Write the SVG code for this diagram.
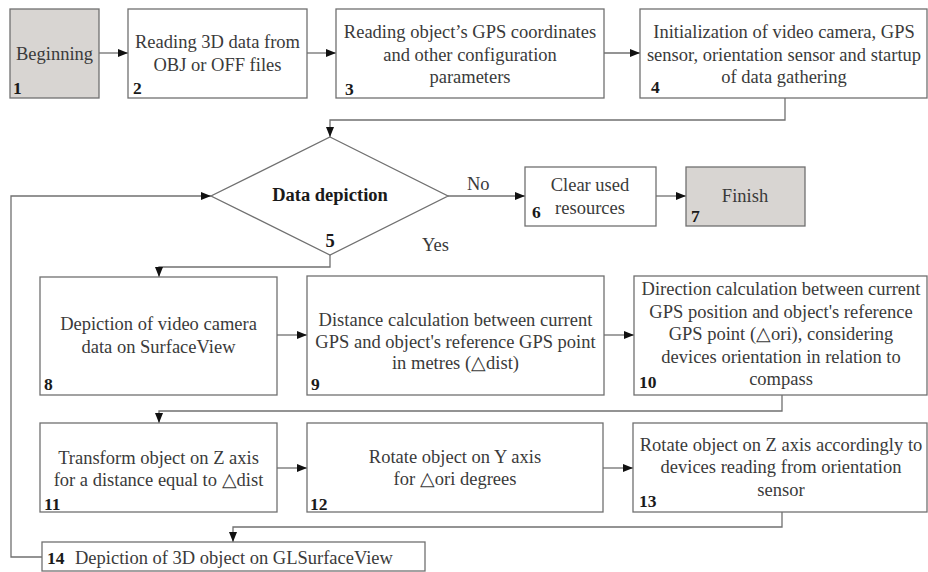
<svg xmlns="http://www.w3.org/2000/svg" width="928" height="572" viewBox="0 0 928 572">
<defs>
<style>
.box{fill:#ffffff;stroke:#707070;stroke-width:1.3}
.gray{fill:#d8d5d2}
.t{font-family:"Liberation Serif","Times New Roman",serif;font-size:18.5px;fill:#3a3a3a;text-anchor:middle}
.n{font-family:"Liberation Serif","Times New Roman",serif;font-size:17.5px;font-weight:bold;fill:#1a1a1a}
.b{font-family:"Liberation Serif","Times New Roman",serif;font-size:18.5px;font-weight:bold;fill:#1a1a1a;text-anchor:middle}
.c{fill:none;stroke:#707070;stroke-width:1.3}
.s{fill:none;stroke:#707070;stroke-width:1.3;marker-end:url(#ah)}
</style>
<marker id="ah" markerUnits="userSpaceOnUse" markerWidth="11" markerHeight="9" refX="10" refY="4" orient="auto">
<path d="M0,0 L10,4 L0,8 z" fill="#111"/>
</marker>
</defs>
<rect width="928" height="572" fill="#ffffff"/>
<g id="connectors">
<path class="s" d="M99,53 H128"/>
<path class="s" d="M307,53 H336"/>
<path class="s" d="M604,53 H640"/>
<path class="s" d="M785,98 V120 H330 V137"/>
<path class="s" d="M448,196 H525"/>
<path class="s" d="M656,196 H686"/>
<path class="s" d="M330,255 V267 H159 V277"/>
<path class="s" d="M277,335 H307"/>
<path class="s" d="M604,335 H634"/>
<path class="s" d="M782,395 V411 H159 V423"/>
<path class="s" d="M277,468 H307"/>
<path class="s" d="M603,468 H633"/>
<path class="s" d="M782,512 V527 H233 V542"/>
<path class="s" d="M42,557 H11 V196 H211"/>
<text class="t" x="467" y="190" style="text-anchor:start">No</text>
<text class="t" x="422" y="251" style="text-anchor:start">Yes</text>
</g>
<g id="node1">
<rect class="box gray" x="10" y="9" width="89" height="89"/>
<text class="t" x="54.5" y="60">Beginning</text>
<text class="n" x="13" y="94">1</text>
</g>
<g id="node2">
<rect class="box" x="128" y="9" width="179" height="89"/>
<text class="t" x="217.5" y="48">Reading 3D data from</text>
<text class="t" x="217.5" y="71">OBJ or OFF files</text>
<text class="n" x="133" y="94">2</text>
</g>
<g id="node3">
<rect class="box" x="336" y="9" width="268" height="89"/>
<text class="t" x="470" y="38">Reading object’s GPS coordinates</text>
<text class="t" x="470" y="61">and other configuration</text>
<text class="t" x="470" y="83">parameters</text>
<text class="n" x="345" y="95">3</text>
</g>
<g id="node4">
<rect class="box" x="640" y="9" width="287" height="89"/>
<text class="t" x="784" y="38">Initialization of video camera, GPS</text>
<text class="t" x="784" y="61">sensor, orientation sensor and startup</text>
<text class="t" x="784" y="83">of data gathering</text>
<text class="n" x="651" y="93">4</text>
</g>
<g id="node5">
<polygon class="box" points="330,137 448,196 330,255 211,196"/>
<text class="b" x="330" y="201">Data depiction</text>
<text class="b" x="330" y="247">5</text>
</g>
<g id="node6">
<rect class="box" x="525" y="167" width="131" height="59"/>
<text class="t" x="590" y="191">Clear used</text>
<text class="t" x="590" y="214">resources</text>
<text class="n" x="532" y="218">6</text>
</g>
<g id="node7">
<rect class="box gray" x="686" y="167" width="119" height="59"/>
<text class="t" x="745" y="202">Finish</text>
<text class="n" x="691" y="222">7</text>
</g>
<g id="node8">
<rect class="box" x="40" y="277" width="237" height="118"/>
<text class="t" x="158.5" y="330">Depiction of video camera</text>
<text class="t" x="158.5" y="353">data on SurfaceView</text>
<text class="n" x="44" y="390">8</text>
</g>
<g id="node9">
<rect class="box" x="307" y="276" width="297" height="119"/>
<text class="t" x="455.5" y="326">Distance calculation between current</text>
<text class="t" x="455.5" y="347.5">GPS and object's reference GPS point</text>
<text class="t" x="455.5" y="369">in metres (△dist)</text>
<text class="n" x="311" y="390">9</text>
</g>
<g id="node10">
<rect class="box" x="634" y="276" width="293" height="119"/>
<text class="t" x="781" y="295">Direction calculation between current</text>
<text class="t" x="781" y="317.5">GPS position and object's reference</text>
<text class="t" x="781" y="340">GPS point (△ori), considering</text>
<text class="t" x="781" y="362.5">devices orientation in relation to</text>
<text class="t" x="781" y="385">compass</text>
<text class="n" x="639" y="388">10</text>
</g>
<g id="node11">
<rect class="box" x="40" y="423" width="237" height="89"/>
<text class="t" x="158.5" y="464">Transform object on Z axis</text>
<text class="t" x="158.5" y="486">for a distance equal to △dist</text>
<text class="n" x="44" y="510">11</text>
</g>
<g id="node12">
<rect class="box" x="307" y="423" width="296" height="89"/>
<text class="t" x="455" y="463">Rotate object on Y axis</text>
<text class="t" x="455" y="485">for △ori degrees</text>
<text class="n" x="310" y="510">12</text>
</g>
<g id="node13">
<rect class="box" x="633" y="423" width="294" height="89"/>
<text class="t" x="781" y="451">Rotate object on Z axis accordingly to</text>
<text class="t" x="781" y="473">devices reading from orientation</text>
<text class="t" x="781" y="496">sensor</text>
<text class="n" x="639" y="507">13</text>
</g>
<g id="node14">
<rect class="box" x="42" y="542" width="383" height="29"/>
<text class="n" x="47" y="564">14</text>
<text class="t" x="75" y="564" style="text-anchor:start">Depiction of 3D object on GLSurfaceView</text>
</g>
</svg>
